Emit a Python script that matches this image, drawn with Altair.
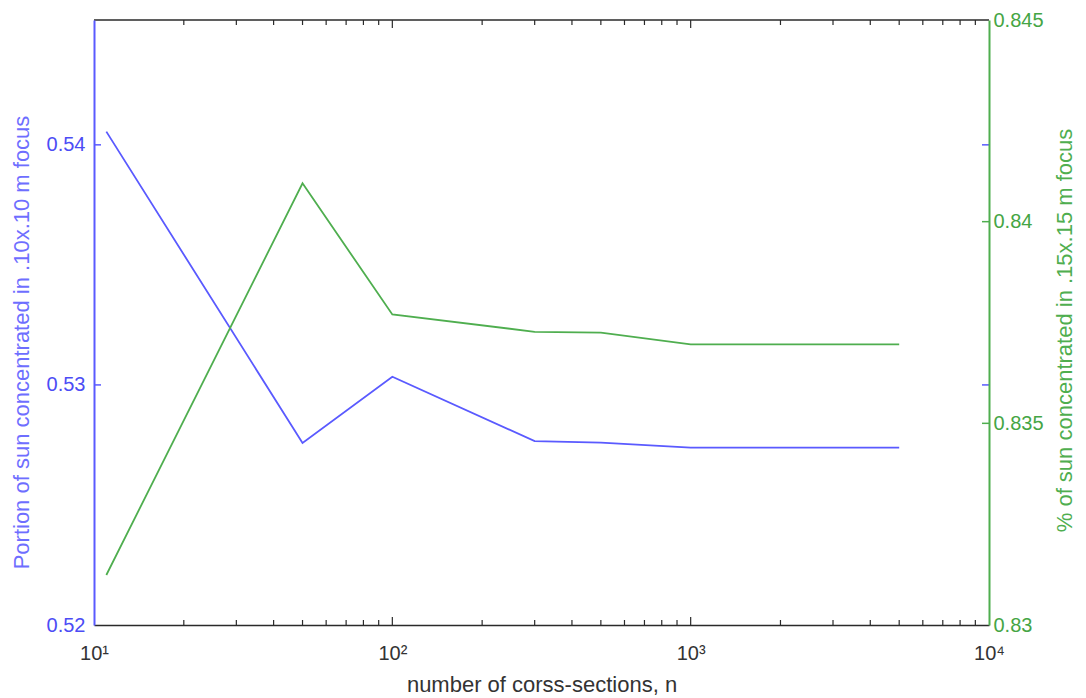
import altair as alt
import pandas as pd

# ---- data ----
n_sections = [11, 50, 100, 300, 500, 1000, 5000]
portion_10cm = [0.54055, 0.52758, 0.53034, 0.52766, 0.52760, 0.52739, 0.52739]
percent_15cm = [0.83124, 0.84095, 0.83770, 0.83727, 0.83725, 0.83696, 0.83696]

x_major = [10, 100, 1000, 10000]
x_major_labels = ["10\u00b9", "10\u00b2", "10\u00b3", "10\u2074"]
x_inner_major = [100, 1000]
x_minor = [20, 30, 40, 50, 60, 70, 80, 90,
           200, 300, 400, 500, 600, 700, 800, 900,
           2000, 3000, 4000, 5000, 6000, 7000, 8000, 9000]
left_ticks = [0.52, 0.53, 0.54]
left_inner = [0.53, 0.54]
right_ticks = [0.83, 0.835, 0.84, 0.845]
right_inner = [0.835, 0.84]

W, H = 895, 605
BLUE = "#5a5aff"
BLUE_TXT = "#4c4cf5"
BLUE_TITLE = "#6e6eff"
GREEN = "#4fae4f"
GREEN_TXT = "#45a545"
DARK = "#2a2a2a"
FONT = "Liberation Sans"

df = pd.DataFrame({"n": n_sections, "p10": portion_10cm, "p15": percent_15cm})


def xs():
    return alt.Scale(type="log", domain=[10, 10000], nice=False)


def yl():
    return alt.Scale(domain=[0.52, 0.5452], zero=False, nice=False)


def yr():
    return alt.Scale(domain=[0.83, 0.845], zero=False, nice=False)


label_expr = ""
for v, lab in zip(x_major, x_major_labels):
    label_expr += f"datum.value == {v} ? '{lab}' : "
label_expr += "''"

blue_line = alt.Chart(df).mark_line(color=BLUE, strokeWidth=1.8).encode(
    x=alt.X("n:Q", scale=xs(),
            axis=alt.Axis(values=x_major, labelExpr=label_expr, ticks=False, grid=False,
                          domainColor=DARK, domainWidth=1.5, labelFontSize=20,
                          labelColor="#333333", labelPadding=18, labelFlush=False,
                          labelOverlap=False, labelFont=FONT,
                          title="number of corss-sections, n", titleFontSize=22,
                          titleFontWeight="normal", titleColor="#333333", titleFont=FONT,
                          titlePadding=11, zindex=1)),
    y=alt.Y("p10:Q", scale=yl(),
            axis=alt.Axis(orient="left", values=left_ticks, format="~g", ticks=False,
                          grid=False, domainColor=BLUE, domainWidth=2,
                          labelColor=BLUE_TXT, labelFontSize=20, labelPadding=9,
                          labelFont=FONT, labelFlush=False, labelOverlap=False,
                          title="Portion of sun concentrated in .10x.10 m focus",
                          titleColor=BLUE_TITLE, titleFontSize=22, titleFontWeight="normal",
                          titleFont=FONT, titlePadding=13, titleY=322, zindex=1)),
)

green_line = alt.Chart(df).mark_line(color=GREEN, strokeWidth=1.8).encode(
    x=alt.X("n:Q", scale=xs()),
    y=alt.Y("p15:Q", scale=yr(),
            axis=alt.Axis(orient="right", values=right_ticks, format="~g", ticks=False,
                          grid=False, domainColor=GREEN, domainWidth=2,
                          labelColor=GREEN_TXT, labelFontSize=20, labelPadding=4,
                          labelFont=FONT, labelFlush=False, labelOverlap=False,
                          title="% of sun concentrated in .15x.15 m focus",
                          titleColor=GREEN, titleFontSize=22, titleFontWeight="normal",
                          titleFont=FONT, titleAngle=270, titleBaseline="top",
                          titlePadding=11, titleY=310, zindex=1)),
)

left_tick_df = pd.DataFrame({"v": left_inner})
left_ticks_in = alt.Chart(left_tick_df).mark_rule(color=BLUE, strokeWidth=1.5).encode(
    y=alt.Y("v:Q", scale=yl(), axis=None), x=alt.value(0), x2=alt.value(7))
left_ticks_right = alt.Chart(left_tick_df).mark_rule(color=BLUE, strokeWidth=1.5).encode(
    y=alt.Y("v:Q", scale=yl(), axis=None), x=alt.value(W - 7), x2=alt.value(W))

right_tick_df = pd.DataFrame({"v": right_inner})
green_ticks = alt.Chart(right_tick_df).mark_rule(color=GREEN, strokeWidth=1.5).encode(
    y=alt.Y("v:Q", scale=yr(), axis=None), x=alt.value(W - 7), x2=alt.value(W))

minor_df = pd.DataFrame({"t": x_minor})
major_df = pd.DataFrame({"t": x_inner_major})


def xticks(data, y0, y1):
    return alt.Chart(data).mark_rule(color=DARK, strokeWidth=1.2).encode(
        x=alt.X("t:Q", scale=xs()), y=alt.value(y0), y2=alt.value(y1))


bottom_minor = xticks(minor_df, H, H - 5)
bottom_major = xticks(major_df, H, H - 8)
top_minor = xticks(minor_df, 0, 5)
top_major = xticks(major_df, 0, 8)

top_border = alt.Chart(pd.DataFrame({"a": [0]})).mark_rule(color=DARK, strokeWidth=1.5).encode(
    x=alt.value(0), x2=alt.value(W), y=alt.value(0))

chart = alt.layer(
    blue_line, green_line, left_ticks_in, left_ticks_right, green_ticks,
    bottom_minor, bottom_major, top_minor, top_major, top_border,
).resolve_scale(y="independent").properties(
    width=W, height=H,
    autosize=alt.AutoSizeParams(type="none"),
    padding={"left": 94, "top": 20, "right": 1086 - 94 - W, "bottom": 698 - 20 - H},
).configure(font=FONT, background="white").configure_view(strokeWidth=0)

chart.save("out.html", embed_options={"renderer": "svg", "actions": False})
